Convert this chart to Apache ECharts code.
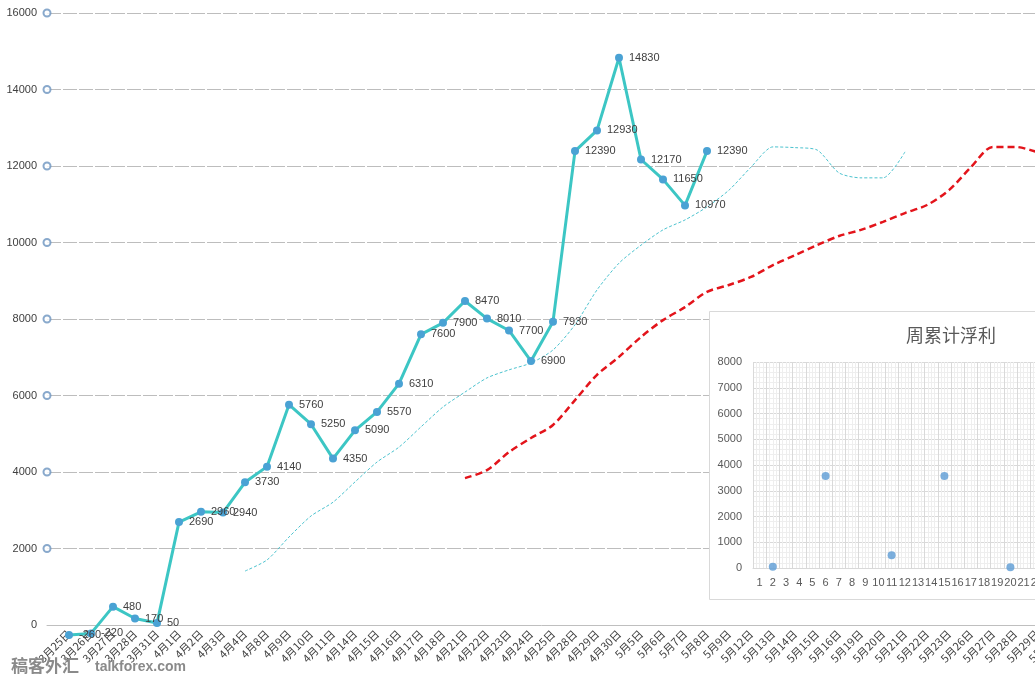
<!DOCTYPE html>
<html>
<head>
<meta charset="utf-8">
<style>html,body{margin:0;padding:0;background:#fff;}#c{width:1035px;height:683px;}</style>
<script src="https://cdn.jsdelivr.net/npm/echarts@6/dist/echarts.min.js"></script>
</head>
<body>
<div id="c"></div>
<script>
const categories = ['', '3月25日','3月26日','3月27日','3月28日','3月31日','4月1日','4月2日','4月3日','4月4日','4月8日','4月9日','4月10日','4月11日','4月14日','4月15日','4月16日','4月17日','4月18日','4月21日','4月22日','4月23日','4月24日','4月25日','4月28日','4月29日','4月30日','5月5日','5月6日','5月7日','5月8日','5月9日','5月12日','5月13日','5月14日','5月15日','5月16日','5月19日','5月20日','5月21日','5月22日','5月23日','5月26日','5月27日','5月28日','5月29日','5月30日'];
const profitValues = [null,-260,-220,480,170,50,2690,2960,2940,3730,4140,5760,5250,4350,5090,5570,6310,7600,7900,8470,8010,7700,6900,7930,12390,12930,14830,12170,11650,10970,12390];
const shortAvg = [null,null,null,null,null,null,null,null,null,
  1410,1700,2300,2850,3210,3740,4260,4650,5180,5700,6090,6460,6670,6850,7190,7850,8760,9460,9930,10330,10590,10930,11370,11970,12500,12480,12420,11820,11690,11690,12370];
const longAvg = [null,null,null,null,null,null,null,null,null,null,null,null,null,null,null,null,null,null,null,
  3840,4050,4520,4890,5230,5880,6540,7010,7530,7970,8310,8710,8890,9100,9410,9670,9930,10170,10330,10540,10770,10980,11370,11970,12500,12500,12370,12250];
const yTickMarks = [2000,4000,6000,8000,10000,12000,14000,16000];
const insetCategories = ['1','2','3','4','5','6','7','8','9','10','11','12','13','14','15','16','17','18','19','20','21','22','23','24'];
const insetWeeks = ['2','6','11','15','20'];
const insetValues = [50,3570,500,3570,30];

const chart = echarts.init(document.getElementById('c'), null, {renderer:'canvas'});
const numFont = 'Liberation Sans';
const plain = v => String(v);
const option = {
  animation:false,
  backgroundColor:'#ffffff',
  title:[{
    text:'周累计浮利', left:901, top:321,
    textStyle:{fontFamily:'Noto Sans CJK SC', fontSize:18, fontWeight:'normal', color:'#595959'}
  }],
  graphic:[
    {type:'rect', z:1, shape:{x:709.5, y:311.5, width:400, height:288}, style:{fill:'#ffffff', stroke:'#d9d9d9', lineWidth:1}},
    {type:'text', z:10, left:11, top:657, style:{text:'稿客外汇', fill:'#8a8a8a', font:'bold 17px "Noto Sans CJK SC"'}},
    {type:'text', z:10, left:95, top:660, style:{text:'talkforex.com', fill:'#8a8a8a', font:'bold 14px "Liberation Sans"'}}
  ],
  grid:[
    {left:47, top:13, width:1012, height:612, containLabel:false, outerBoundsMode:'none'},
    {left:753, top:362, width:316.8, height:206, containLabel:false, outerBoundsMode:'none'}
  ],
  xAxis:[
    {type:'category', gridIndex:0, data:categories, boundaryGap:false,
     axisLine:{show:true, lineStyle:{color:'#bfbfbf', width:1}},
     axisTick:{show:false},
     axisLabel:{interval:0, rotate:45, margin:7, fontSize:11, color:'#404040', fontFamily:'Noto Sans CJK SC', hideOverlap:false},
     splitLine:{show:false}},
    {type:'category', gridIndex:1, data:insetCategories, boundaryGap:true, z:3,
     axisLine:{show:true, lineStyle:{color:'#d9d9d9'}},
     axisTick:{show:false},
     axisLabel:{interval:0, margin:9, fontSize:11, color:'#595959', fontFamily:numFont},
     splitLine:{show:false}},
    {type:'value', gridIndex:1, min:0, max:24, interval:1, z:3,
     axisLine:{show:false}, axisTick:{show:false}, axisLabel:{show:false},
     minorTick:{show:false, splitNumber:4},
     splitLine:{show:true, lineStyle:{color:'#d9d9d9', width:1}},
     minorSplitLine:{show:true, lineStyle:{color:'#eeeeee', width:1}}}
  ],
  yAxis:[
    {type:'value', gridIndex:0, min:0, max:16000, interval:2000,
     axisLine:{show:false}, axisTick:{show:false},
     axisLabel:{margin:10, fontSize:11, color:'#404040', fontFamily:numFont, formatter:plain},
     splitLine:{show:true, lineStyle:{color:'#bdbdbd', width:1, type:[14,2]}}},
    {type:'value', gridIndex:1, min:0, max:8000, interval:1000, z:3,
     axisLine:{show:false}, axisTick:{show:false},
     axisLabel:{margin:11, fontSize:11, color:'#595959', fontFamily:numFont, formatter:plain},
     minorTick:{show:false, splitNumber:5},
     splitLine:{show:true, lineStyle:{color:'#d9d9d9', width:1}},
     minorSplitLine:{show:true, lineStyle:{color:'#eeeeee', width:1}}}
  ],
  series:[
    {type:'line', name:'短均线', data:shortAvg, xAxisIndex:0, yAxisIndex:0, smooth:0.25, showSymbol:false, z:2,
     lineStyle:{color:'#4cc3cf', width:1, type:[3,2]}},
    {type:'line', name:'长均线', data:longAvg, xAxisIndex:0, yAxisIndex:0, smooth:0.3, showSymbol:false, z:2,
     lineStyle:{color:'#e3141b', width:2.5, type:[7,4]}},
    {type:'line', name:'累计浮利', data:profitValues, xAxisIndex:0, yAxisIndex:0, clip:false, z:5,
     symbol:'circle', symbolSize:8,
     lineStyle:{color:'#3cc6c4', width:3},
     itemStyle:{color:'#4aa2d4'},
     label:{show:true, position:'right', distance:6, fontSize:11, color:'#404040', fontFamily:numFont}},
    {type:'scatter', name:'刻度', data:yTickMarks.map(v => [0, v]), xAxisIndex:0, yAxisIndex:0, clip:false, z:5,
     symbol:'emptyCircle', symbolSize:7,
     itemStyle:{color:'#6c94bf', borderColor:'#6c94bf', borderWidth:1.3}},
    {type:'scatter', name:'周累计浮利', data:insetWeeks.map((w,i) => [w, insetValues[i]]), xAxisIndex:1, yAxisIndex:1, z:6,
     symbol:'circle', symbolSize:8,
     itemStyle:{color:'#5b9bd5'}}
  ]
};
chart.setOption(option);
</script>
</body>
</html>
